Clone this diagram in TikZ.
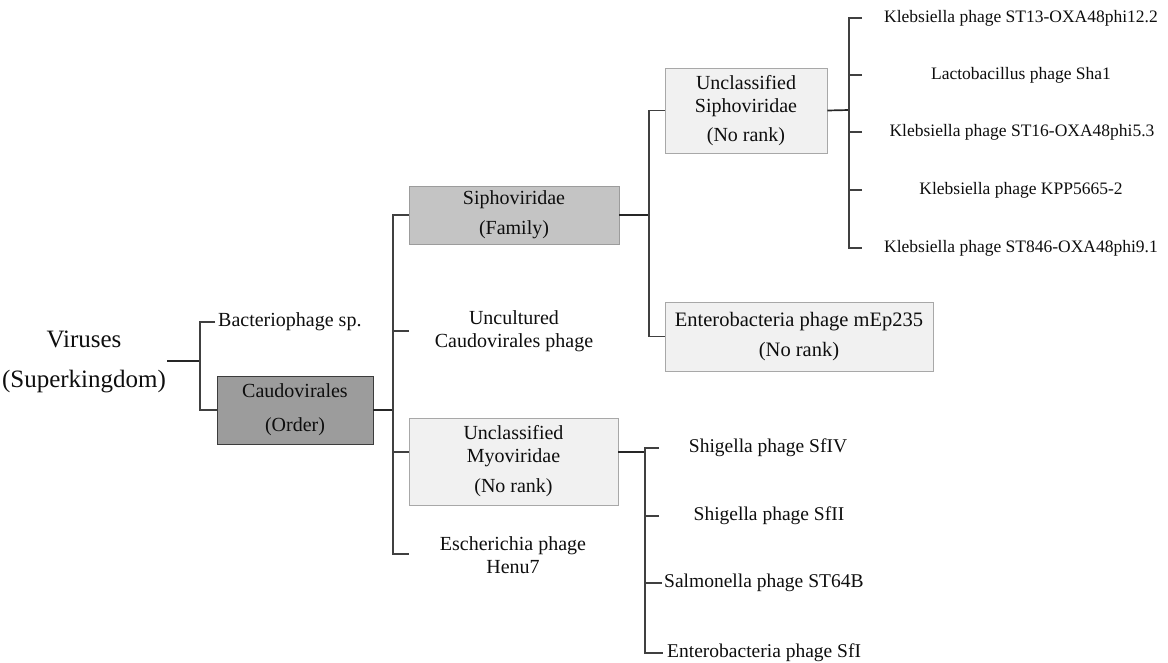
\documentclass[tikz,border=0pt]{standalone}
\usepackage{fontspec}
\setmainfont{Liberation Serif}
\definecolor{txt}{HTML}{0E0E0E}
\definecolor{linkcol}{HTML}{404040}
\definecolor{ordfill}{HTML}{9C9C9C}
\definecolor{ordline}{HTML}{3C3C3C}
\definecolor{famfill}{HTML}{C4C4C4}
\definecolor{famline}{HTML}{9C9C9C}
\definecolor{nrfill}{HTML}{F1F1F1}
\definecolor{nrline}{HTML}{A8A8A8}
\begin{document}
\begin{tikzpicture}[x=1pt,y=-1pt,
  lbl/.style={text=txt, align=center, inner sep=0pt, font=\fontsize{20}{23}\selectfont},
  leafR/.style={lbl, font=\fontsize{17.5}{21}\selectfont},
  leafM/.style={lbl, font=\fontsize{19.5}{23}\selectfont},
  rankbox/.style={lbl, draw, line width=0.8pt},
  orderbox/.style={rankbox, draw=ordline, fill=ordfill},
  familybox/.style={rankbox, draw=famline, fill=famfill},
  norankbox/.style={rankbox, draw=nrline, fill=nrfill},
  link/.style={draw=linkcol, line width=1.2pt},
  stem/.style={draw=black!85, line width=1.7pt}]
\useasboundingbox (0,0) rectangle (1168,662);

% root
\node[lbl, font=\fontsize{25}{40}\selectfont] (viruses) at (84,362) {Viruses\\(Superkingdom)};

% order level
\node[lbl, anchor=west] (bact) at (218,322) {Bacteriophage sp.};
\node[orderbox, minimum width=156pt, minimum height=68pt] (caud) at (295,410)
  {Caudovirales\\[11pt](Order)};

% family level
\node[familybox, minimum width=210pt, minimum height=58pt] (siph) at (514,215)
  {Siphoviridae\\[7pt](Family)};
\node[lbl] (uncult) at (514,331) {Uncultured\\Caudovirales phage};
\node[norankbox, minimum width=209pt, minimum height=87pt] (myo) at (513.5,461.5)
  {Unclassified\\Myoviridae\\[7pt](No rank)};
\node[lbl] (esch) at (513,555) {Escherichia phage\\Henu7};

% below Siphoviridae
\node[norankbox, minimum width=162pt, minimum height=85pt] (usiph) at (746,110.5)
  {Unclassified\\Siphoviridae\\[6pt](No rank)};
\node[norankbox, minimum width=268pt, minimum height=69pt,
  font=\fontsize{20.5}{23}\selectfont] (mep) at (799,336.5)
  {Enterobacteria phage mEp235\\[7pt](No rank)};

% species under Unclassified Siphoviridae
\node[leafR] (s1) at (1021,18) {Klebsiella phage ST13-OXA48phi12.2};
\node[leafR] (s2) at (1021,75) {Lactobacillus phage Sha1};
\node[leafR] (s3) at (1022,132) {Klebsiella phage ST16-OXA48phi5.3};
\node[leafR] (s4) at (1021,190) {Klebsiella phage KPP5665-2};
\node[leafR] (s5) at (1021,248) {Klebsiella phage ST846-OXA48phi9.1};

% species under Unclassified Myoviridae
\node[leafM] (m1) at (768,448) {Shigella phage SfIV};
\node[leafM] (m2) at (769,516) {Shigella phage SfII};
\node[leafM, anchor=west] (m3) at (664,583) {Salmonella phage ST64B};
\node[leafM, anchor=west] (m4) at (667,653) {Enterobacteria phage SfI};

% junctions and tick ends
\coordinate (v0) at (167,361);
\coordinate (j1) at (200,361);
\coordinate (j2) at (393,410);
\coordinate (j3) at (649,215);
\coordinate (j4) at (849,110);
\coordinate (j5) at (645,452);
\coordinate (u1) at (409,331);
\coordinate (e1) at (409,554);
\coordinate (k1) at (862,18);
\coordinate (k2) at (862,75);
\coordinate (k3) at (862,132);
\coordinate (k4) at (862,190);
\coordinate (k5) at (862,248);
\coordinate (n1) at (659,448);
\coordinate (n2) at (659,516);
\coordinate (n3) at (662,583);
\coordinate (n4) at (663,653);

% Viruses -> order level
\draw[stem] (v0) -- (j1);
\draw[link] ([xshift=-3pt]bact.west) -| (j1) |- (caud.west);

% Caudovirales -> family level
\draw[stem] (caud.east) -- (j2);
\draw[link] (siph.west) -| (j2) |- (e1);
\draw[link] (u1) -- (u1 -| j2);
\draw[link] ([yshift=9.5pt]myo.west) -- ([yshift=9.5pt]myo.west -| j2);

% Siphoviridae -> subgroups
\draw[stem] (siph.east) -- (j3);
\draw[link] (usiph.west) -| (j3) |- (mep.west);

% Unclassified Siphoviridae -> species
\draw[stem] (usiph.east) -- (j4);
\draw[link] (k1) -| (j4) |- (k5);
\foreach \k in {k2,k3,k4} \draw[link] (\k) -- (\k -| j4);

% Unclassified Myoviridae -> species
\draw[stem] ([yshift=9.5pt]myo.east) -- (j5);
\draw[link] (n1) -| (j5) |- (n4);
\foreach \k in {n2,n3} \draw[link] (\k) -- (\k -| j5);
\end{tikzpicture}
\end{document}
